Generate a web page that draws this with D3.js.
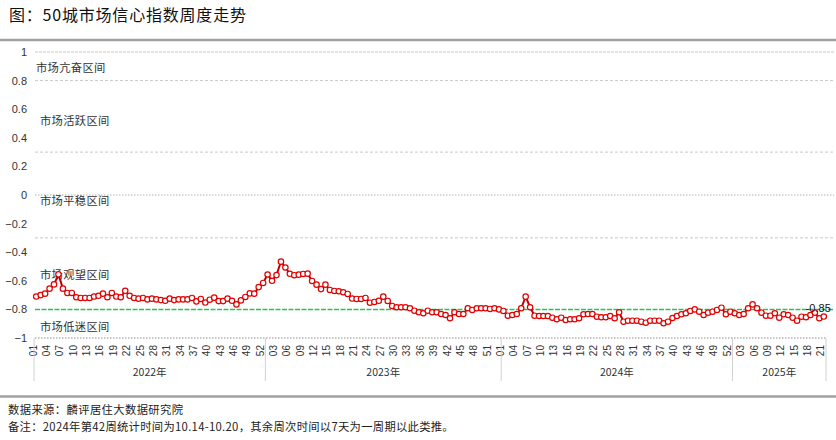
<!DOCTYPE html>
<html><head><meta charset="utf-8">
<script src="https://cdn.jsdelivr.net/npm/d3@7"></script>
<style>body{margin:0;background:#fff}svg{display:block}</style>
</head><body><svg id="c" width="836" height="440"></svg>
<script>
// ---- data ----
const years = ["2022年", "2023年", "2024年", "2025年"];
const values2022 = [-0.71,-0.70,-0.69,-0.655,-0.625,-0.555,-0.655,-0.685,-0.685,-0.715,
  -0.72,-0.72,-0.72,-0.71,-0.705,-0.69,-0.715,-0.685,-0.71,-0.715,
  -0.67,-0.705,-0.72,-0.725,-0.72,-0.73,-0.725,-0.73,-0.735,-0.74,
  -0.725,-0.735,-0.73,-0.73,-0.73,-0.72,-0.744,-0.727,-0.752,-0.732,
  -0.718,-0.742,-0.742,-0.725,-0.74,-0.765,-0.737,-0.713,-0.688,-0.69,
  -0.644,-0.615];
const values2023 = [-0.556,-0.60,-0.56,-0.466,-0.507,-0.551,-0.561,-0.557,-0.552,-0.55,
  -0.601,-0.627,-0.658,-0.627,-0.664,-0.671,-0.673,-0.68,-0.692,-0.724,
  -0.727,-0.727,-0.72,-0.753,-0.748,-0.74,-0.711,-0.741,-0.776,-0.785,
  -0.785,-0.785,-0.792,-0.809,-0.82,-0.827,-0.809,-0.82,-0.82,-0.832,
  -0.839,-0.862,-0.82,-0.832,-0.832,-0.792,-0.804,-0.792,-0.792,-0.792,
  -0.797,-0.792,-0.80];
const values2024 = [-0.811,-0.844,-0.839,-0.832,-0.792,-0.711,-0.785,-0.844,-0.846,-0.846,
  -0.846,-0.858,-0.869,-0.858,-0.874,-0.869,-0.869,-0.862,-0.834,-0.832,
  -0.832,-0.851,-0.855,-0.855,-0.846,-0.862,-0.82,-0.886,-0.879,-0.879,
  -0.879,-0.886,-0.893,-0.879,-0.879,-0.879,-0.897,-0.886,-0.86,-0.846,
  -0.834,-0.827,-0.811,-0.80,-0.816,-0.839,-0.823,-0.816,-0.804,-0.788,
  -0.834,-0.816];
const values2025 = [-0.827,-0.839,-0.832,-0.792,-0.765,-0.792,-0.823,-0.844,-0.844,-0.827,
  -0.858,-0.834,-0.839,-0.858,-0.879,-0.851,-0.855,-0.839,-0.823,-0.862,
  -0.85];
const yTickValues = [1,0.8,0.6,0.4,0.2,0,-0.2,-0.4,-0.6,-0.8,-1];
const zoneLabels = ["市场亢奋区间","市场活跃区间","市场平稳区间","市场观望区间","市场低迷区间"];
const zoneLabelValues = [0.89, 0.52, -0.04, -0.56, -0.92];
const zoneBounds = [1, 0.8, 0.3, 0, -0.3];
const threshold = -0.8;
const lastLabel = "-0.85";
const title = "图：50城市场信心指数周度走势";
const source = "数据来源：麟评居住大数据研究院";
const note = "备注：2024年第42周统计时间为10.14-10.20，其余周次时间以7天为一周期以此类推。";

// ---- build ----
const yearSeries = [values2022, values2023, values2024, values2025];
const data = [];
yearSeries.forEach((arr, yi) => arr.forEach((v, wi) => data.push({year: yi, week: wi + 1, value: v})));
const idx = d3.range(data.length);

const svg = d3.select("#c");
const font = "'Noto Sans CJK SC', 'Noto Sans', sans-serif";
const numFont = "'Liberation Sans', Arial, sans-serif";

const x = d3.scaleBand().domain(idx).range([34, 826]).padding(0);
const y = d3.scaleLinear().domain([-1, 1]).range([338, 52]);
const bw = x.bandwidth();

// title + separator lines
svg.append("text").attr("x", 9).attr("y", 21).text(title)
  .style("font-family", font).style("font-size", "16px").style("letter-spacing", "0.8px").attr("fill", "#111");
svg.append("line").attr("x1", 0).attr("x2", 836).attr("y1", 40).attr("y2", 40)
  .attr("stroke", "#a0a0a0").attr("stroke-width", 2.5);
svg.append("line").attr("x1", 0).attr("x2", 836).attr("y1", 396.5).attr("y2", 396.5)
  .attr("stroke", "#a0a0a0").attr("stroke-width", 2.5);

// gridlines
const gl = svg.append("g");
zoneBounds.forEach(v => {
  gl.append("line").attr("x1", 35).attr("x2", 834).attr("y1", y(v)).attr("y2", y(v))
    .attr("stroke", v === 0 ? "#b0b0b0" : "#c8c8c8").attr("stroke-width", 1)
    .attr("stroke-dasharray", v === 0 ? "1.5,1.5" : (v === 1 ? "3,1" : "3,2"));
});
// bottom dotted axis line
gl.append("line").attr("x1", 35).attr("x2", 826).attr("y1", y(-1)).attr("y2", y(-1))
  .attr("stroke", "#8c8c8c").attr("stroke-width", 1.2).attr("stroke-dasharray", "1.5,1.5");
// threshold green
gl.append("line").attr("x1", 35).attr("x2", 834).attr("y1", y(threshold)).attr("y2", y(threshold))
  .attr("stroke", "#2cc157").attr("stroke-width", 1.5).attr("stroke-dasharray", "5,1.5");

// y axis
const yAxis = d3.axisLeft(y).tickValues(yTickValues).tickSize(0).tickPadding(0)
  .tickFormat(d => d === 0 ? "0" : (Number.isInteger(d) ? String(d) : d.toFixed(1)).replace("-", "−"));
const ya = svg.append("g").attr("transform", "translate(27,0)").call(yAxis);
ya.select(".domain").remove();
ya.selectAll("text").style("font-family", numFont).style("font-size", "11px").attr("fill", "#333");

// zone labels
zoneLabels.forEach((t, i) => {
  svg.append("text").attr("x", i === 0 ? 36 : 40).attr("y", y(zoneLabelValues[i])).attr("dy", "0.35em")
    .text(t).style("font-family", font).style("font-size", "11.3px").style("letter-spacing", "0.3px").attr("fill", "#333");
});

// x axis
const tickIdx = idx.filter(i => i % 3 === 0);
const xAxis = d3.axisBottom(x).tickValues(tickIdx).tickSize(0)
  .tickFormat(i => String(data[i].week).padStart(2, "0"));
const xa = svg.append("g").attr("transform", "translate(0,338)").call(xAxis);
xa.select(".domain").remove();
xa.selectAll("text").attr("transform", "rotate(-90)").attr("text-anchor", "end")
  .attr("x", -7).attr("y", -3).attr("dy", "0.35em")
  .style("font-family", numFont).style("font-size", "10px").attr("fill", "#333");

// year groups
let start = 0;
const bounds = [0];
yearSeries.forEach(a => { start += a.length; bounds.push(start); });
bounds.forEach(b => {
  const bx = b < data.length ? x(b) : x(data.length - 1) + bw;
  svg.append("line").attr("x1", bx).attr("x2", bx).attr("y1", 338).attr("y2", 381)
    .attr("stroke", "#d0d0d0").attr("stroke-width", 1);
});
years.forEach((t, i) => {
  const x0 = x(bounds[i]);
  const x1 = x(bounds[i + 1] - 1) + bw;
  svg.append("text").attr("x", (x0 + x1) / 2).attr("y", 376).attr("text-anchor", "middle")
    .text(t).style("font-family", font).style("font-size", "10.5px").attr("fill", "#333");
});

// line + markers
const line = d3.line().x(d => x(d.i) + bw / 2).y(d => y(d.value));
const pts = data.map((d, i) => ({i, value: d.value}));
svg.append("path").datum(pts).attr("d", line).attr("fill", "none")
  .attr("stroke", "#c00000").attr("stroke-width", 2);
svg.append("g").selectAll("circle").data(pts).join("circle")
  .attr("cx", d => x(d.i) + bw / 2).attr("cy", d => y(d.value)).attr("r", 2.7)
  .attr("fill", "#fff").attr("stroke", "#e00000").attr("stroke-width", 1.2);

// last label
const last = pts[pts.length - 1];
svg.append("text").attr("x", x(last.i) + bw / 2 + 7).attr("y", y(last.value) - 5)
  .attr("text-anchor", "end").text(lastLabel)
  .style("font-family", numFont).style("font-size", "11px").attr("fill", "#111");

// footer
svg.append("text").attr("x", 8).attr("y", 414).text(source)
  .style("font-family", font).style("font-size", "11.3px").style("letter-spacing", "0.4px").attr("fill", "#222");
svg.append("text").attr("x", 8).attr("y", 431).text(note)
  .style("font-family", font).style("font-size", "11.3px").style("letter-spacing", "0.3px").attr("fill", "#222");
</script>
</body></html>
